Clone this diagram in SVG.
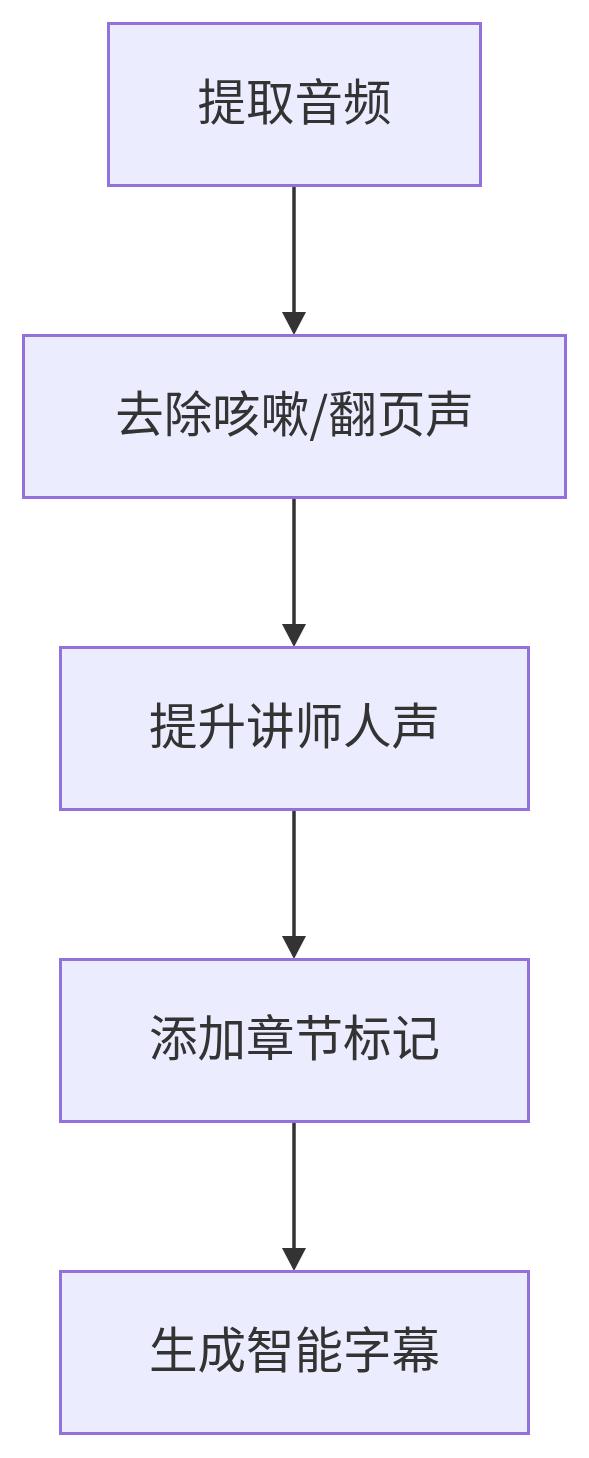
<svg xmlns="http://www.w3.org/2000/svg" width="589" height="1458" viewBox="0 0 589 1458">
<style>
.box{fill:#ECECFF;stroke:#9370DB;stroke-width:3}
.lbl{font-family:"Noto Sans CJK SC","Noto Sans",sans-serif;font-size:48.5px;fill:#333;text-anchor:middle;dominant-baseline:central}
.edge{stroke:#333;stroke-width:3.5;fill:none}
</style>
<rect width="589" height="1458" fill="#fff"/>
<g id="connectors">
<line class="edge" x1="294" y1="186" x2="294" y2="314"/>
<path d="M282,312 L306,312 L294,335 z" fill="#333"/>
<line class="edge" x1="294" y1="498" x2="294" y2="626"/>
<path d="M282,624 L306,624 L294,647 z" fill="#333"/>
<line class="edge" x1="294" y1="810" x2="294" y2="938"/>
<path d="M282,936 L306,936 L294,959 z" fill="#333"/>
<line class="edge" x1="294" y1="1122" x2="294" y2="1250"/>
<path d="M282,1248 L306,1248 L294,1271 z" fill="#333"/>
</g>
<g id="n1"><rect class="box" x="108.5" y="23.5" width="372" height="162"/><text class="lbl" x="294.5" y="99">提取音频</text></g>
<g id="n2"><rect class="box" x="23.5" y="335.5" width="542" height="162"/><text class="lbl" x="294.5" y="411">去除咳嗽/翻页声</text></g>
<g id="n3"><rect class="box" x="60.5" y="647.5" width="468" height="162"/><text class="lbl" x="294.5" y="723">提升讲师人声</text></g>
<g id="n4"><rect class="box" x="60.5" y="959.5" width="468" height="162"/><text class="lbl" x="294.5" y="1035">添加章节标记</text></g>
<g id="n5"><rect class="box" x="60.5" y="1271.5" width="468" height="162"/><text class="lbl" x="294.5" y="1347">生成智能字幕</text></g>
</svg>
